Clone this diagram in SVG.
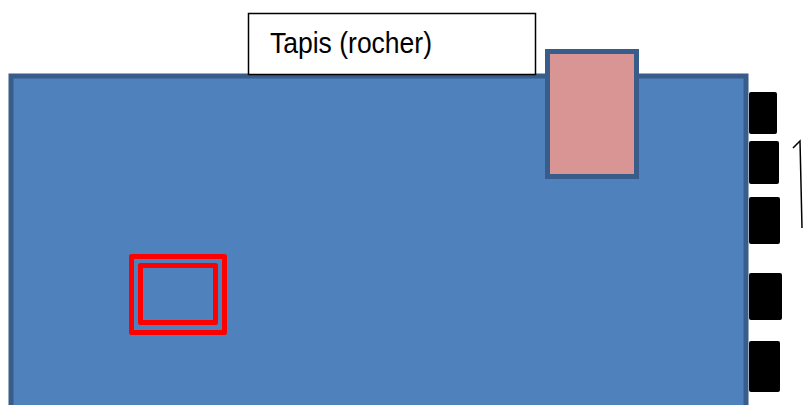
<svg xmlns="http://www.w3.org/2000/svg" width="804" height="405" viewBox="0 0 804 405">
<style>
.blk{fill:#000;}
.red{fill:none;stroke:#ff0000;stroke-width:5;stroke-linejoin:round;}
</style>
<rect width="804" height="405" fill="#fff"/>
<g id="board"><rect x="11" y="76" width="735" height="340" fill="#4f81bd" stroke="#385d8a" stroke-width="5"/></g>
<g id="label"><rect x="248.5" y="13.5" width="287" height="61" fill="#fff" stroke="#000" stroke-width="1.5"/>
<text x="270" y="53" font-family="Liberation Sans, Arial, sans-serif" font-size="29" textLength="162" lengthAdjust="spacingAndGlyphs" fill="#000">Tapis (rocher)</text></g>
<g id="pink"><rect x="547.5" y="51.5" width="89" height="125" fill="#d99594" stroke="#385d8a" stroke-width="5"/></g>
<g id="target"><rect class="red" x="131.5" y="256.5" width="93" height="76"/><rect class="red" x="140.5" y="265.5" width="75" height="57"/></g>
<g id="pins">
<rect class="blk" x="749" y="92" width="28" height="42" rx="2"/>
<rect class="blk" x="749" y="141" width="30" height="43" rx="2"/>
<rect class="blk" x="749" y="197" width="31" height="47" rx="2"/>
<rect class="blk" x="749" y="273" width="33" height="47" rx="2"/>
<rect class="blk" x="749" y="341" width="31" height="51" rx="2"/>
</g>
<g id="connectors"><path d="M793 148 L800 141 L802 228" fill="none" stroke="#000" stroke-width="1.5"/></g>
</svg>
